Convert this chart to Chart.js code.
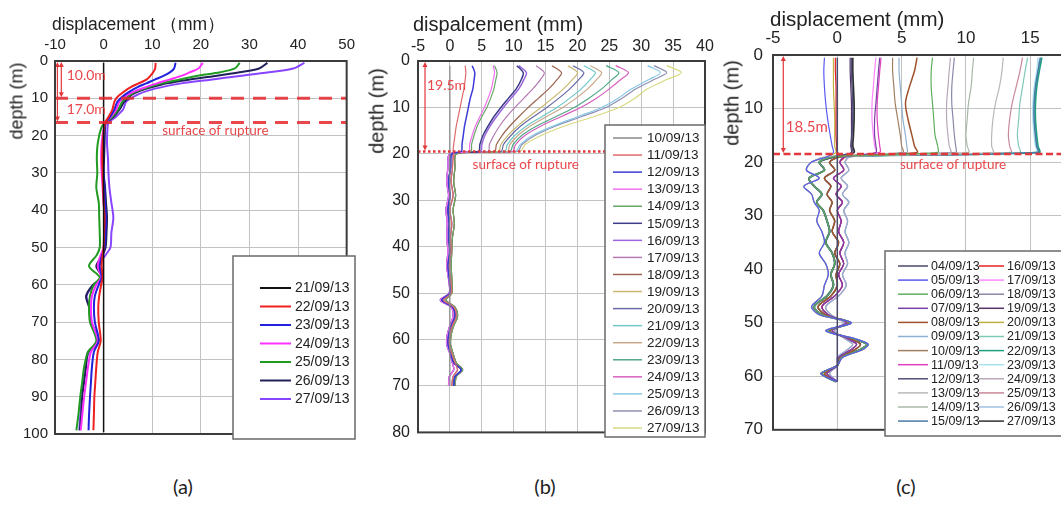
<!DOCTYPE html>
<html>
<head>
<meta charset="utf-8">
<script src="https://cdn.jsdelivr.net/npm/chart.js@4.4.1/dist/chart.umd.min.js"></script>
<style>
body{margin:0;background:#fff;width:1061px;height:529px;overflow:hidden;position:relative;font-family:"Liberation Sans",Arial,sans-serif;color:#222}
canvas{position:absolute;top:0}
.ttl{position:absolute;white-space:nowrap;transform:translateY(-50%)}
.ylab{position:absolute;white-space:nowrap;transform:translate(-50%,-50%) rotate(-90deg)}
.cap{position:absolute;top:486px;transform:translate(-50%,-50%);font:20px Lato,"Open Sans",sans-serif;color:#222}
</style>
</head>
<body>
<canvas id="chA" width="362" height="450" style="left:0"></canvas>
<canvas id="chB" width="360" height="450" style="left:360px"></canvas>
<canvas id="chC" width="410" height="450" style="left:700px"></canvas>

<div class="ttl" style="left:52px;top:24px;font-size:17.5px">displacement （mm）</div>
<div class="ttl" style="left:413px;top:24px;font-size:20px">dispalcement (mm)</div>
<div class="ttl" style="left:770px;top:19px;font-size:20.5px">displacement (mm)</div>
<div class="ylab" style="left:17px;top:101px;font-size:18px">depth (m)</div>
<div class="ylab" style="left:377px;top:111px;font-size:20px">depth (m)</div>
<div class="ylab" style="left:732px;top:103px;font-size:20px">depth (m)</div>
<div class="cap" style="left:183px">(a)</div>
<div class="cap" style="left:545px">(b)</div>
<div class="cap" style="left:906px">(c)</div>

<script>
// ---------- (a) inclinometer, 21/09 - 27/09 ----------
const xTicksA = [-10, 0, 10, 20, 30, 40, 50];
const yTicksA = [0, 10, 20, 30, 40, 50, 60, 70, 80, 90, 100];
const dA = [0.5, 2, 3, 4, 5, 6, 7, 8, 9, 10, 11, 13, 15, 16.5, 18, 22, 26, 30, 34, 38, 42, 46, 50, 52, 55, 58, 60, 63, 66, 70, 75, 78, 82, 86, 90, 95, 99];
const a2109 = [0, 0];  // reference reading, at depths 0.5 and 99.5
const a2209 = [10.7, 10.6, 10.2, 9.6, 8.8, 7.2, 5.6, 4.4, 3.4, 2.6, 2.2, 1.8, 1.0, 0.3, 0.1, -0.2, -0.3, -0.2, -0.1, 0.0, 0.2, 0.1, 0.0, -0.2, -0.4, -0.2, -0.5, -0.9, -1.1, -1.0, -0.6, -1.2, -1.5, -1.7, -1.9, -2.0, -2.1];
const a2309 = [14.8, 14.5, 13.7, 12.3, 10.5, 8.8, 7.0, 5.6, 4.4, 3.5, 2.8, 2.2, 1.3, 0.4, 0.2, 0.0, -0.1, 0.0, 0.2, 0.3, 0.5, 0.4, 0.2, -0.3, -0.8, -0.4, -1.0, -1.8, -2.0, -1.8, -1.0, -2.0, -2.4, -2.6, -2.8, -3.0, -3.1];
const a2409 = [20.4, 19.5, 17.8, 16.0, 13.5, 11.0, 8.7, 6.6, 5.0, 4.0, 3.2, 2.6, 1.5, 0.4, 0.0, -0.4, -0.5, -0.4, -0.2, 0.0, 0.3, 0.2, 0.0, -0.6, -1.2, -0.5, -1.5, -2.4, -2.6, -2.4, -1.2, -2.6, -3.2, -3.6, -4.0, -4.4, -4.7];
const a2509 = [28.0, 27.0, 24.0, 19.0, 15.5, 12.0, 9.3, 7.0, 5.5, 4.5, 3.8, 3.0, 1.8, 0.3, -0.5, -1.2, -1.4, -1.3, -1.5, -1.0, -0.9, -0.8, -0.8, -1.4, -3.0, -0.8, -2.0, -2.8, -3.0, -2.8, -1.5, -3.2, -4.0, -4.4, -4.8, -5.2, -5.6];
const a2609 = [33.7, 32.0, 28.0, 23.0, 17.5, 13.0, 10.0, 7.5, 5.8, 5.0, 4.2, 3.3, 2.0, 0.5, 0.3, 0.2, 0.1, 0.0, 0.3, 0.5, 0.7, 0.6, 0.4, -0.2, -1.5, -0.3, -2.2, -3.6, -3.0, -2.6, -1.0, -3.2, -3.6, -4.0, -4.4, -4.6, -4.9];
const a2709 = [41.3, 39.0, 34.0, 28.0, 22.0, 16.0, 12.0, 9.0, 7.0, 5.6, 4.6, 4.0, 2.5, 1.0, 0.8, 0.7, 0.9, 1.0, 1.2, 1.6, 2.0, 1.6, 1.4, 0.4, -1.0, -0.2, -2.0, -3.5, -2.8, -2.6, -1.2, -3.0, -3.8, -4.2, -4.6, -4.8, -5.0];

// ---------- (b) inclinometer, 10/09 - 27/09 ----------
const xTicksB = [-5, 0, 5, 10, 15, 20, 25, 30, 35, 40];
const yTicksB = [0, 10, 20, 30, 40, 50, 60, 70, 80];
const dBU = [1, 2.5, 4, 6, 8, 10, 12, 14, 16, 18, 19.5];
const dBL = [20, 23, 26, 29, 32, 35, 38, 41, 44, 47, 50, 51.5, 53, 55, 57, 59, 61, 63, 65, 66.5, 68, 70];
const b1009 = [0, 0];  // reference reading, depths 1 and 70
const b1109 = [2.4, 2.5, 2.4, 2.2, 1.9, 1.6, 1.3, 1.0, 0.8, 0.6, 0.5];
const b1209 = [3.5, 3.9, 3.8, 3.6, 3.2, 2.9, 2.6, 2.3, 2.1, 1.9, 1.8];
const b1309 = [6.8, 7.0, 6.8, 6.5, 6.0, 5.4, 4.7, 4.0, 3.5, 3.1, 3.0];
const b1409 = [7.0, 7.4, 7.2, 6.9, 6.4, 5.8, 5.0, 4.3, 3.8, 3.4, 3.3];
const b1509 = [10.5, 11.5, 11.2, 10.4, 9.2, 8.0, 6.9, 6.0, 5.2, 4.7, 4.5];
const b1609 = [10.8, 12.0, 11.6, 10.8, 9.6, 8.4, 7.3, 6.3, 5.5, 5.0, 4.8];
const b1709 = [13.5, 14.8, 14.2, 13.0, 11.6, 10.2, 8.9, 7.8, 6.9, 6.2, 6.0];
const b1809 = [16.0, 17.5, 16.8, 15.5, 13.9, 12.3, 10.8, 9.4, 8.2, 7.3, 7.0];
const b1909 = [18.5, 20.0, 19.2, 17.8, 16.1, 14.3, 12.4, 10.6, 9.1, 8.0, 7.6];
const b2009 = [19.3, 21.0, 20.2, 18.8, 17.1, 15.2, 13.1, 11.1, 9.6, 8.4, 8.0];
const b2109 = [21.0, 22.8, 22.0, 20.6, 18.8, 16.8, 14.4, 12.0, 10.2, 9.0, 8.6];
const b2209 = [22.0, 23.8, 23.0, 21.6, 19.8, 17.7, 15.1, 12.6, 10.7, 9.4, 9.0];
const b2309 = [24.5, 26.5, 25.4, 23.8, 21.8, 19.5, 16.6, 13.6, 11.3, 9.9, 9.4];
const b2409 = [26.0, 28.0, 26.8, 25.0, 23.0, 20.5, 17.4, 14.3, 11.8, 10.3, 9.8];
const b2509 = [31.0, 33.0, 31.2, 28.5, 26.4, 23.8, 20.0, 16.2, 13.0, 11.0, 10.3];
const b2609 = [32.0, 34.0, 32.0, 29.2, 27.0, 24.5, 20.6, 16.6, 13.4, 11.3, 10.6];
const b2709 = [34.0, 36.3, 34.0, 31.0, 29.0, 26.5, 22.5, 18.0, 14.4, 11.8, 11.0];
// below the rupture surface the readings overlap; four traced variants
const bL1 = [0.3, 0.1, -0.2, 0.0, -0.3, -0.1, -0.2, 0.0, -0.3, -0.1, 0.0, -1.3, 0.4, 0.8, 0.2, -0.2, -0.3, 0.1, 0.6, 1.8, 0.8, 0.6];
const bL2 = [0.6, 0.4, 0.2, 0.5, 0.0, 0.3, 0.1, 0.2, -0.1, 0.1, 0.2, -1.0, 0.6, 1.0, 0.4, 0.0, -0.1, 0.3, 0.8, 1.2, 0.5, 0.3];
const bL3 = [0.0, -0.3, -0.5, -0.2, -0.6, -0.4, -0.5, -0.3, -0.5, -0.2, -0.1, -1.5, 0.2, 0.5, 0.0, -0.4, -0.5, 0.0, 0.4, 0.6, -0.1, -0.2];
const bL4 = [1.0, 0.8, 0.6, 0.9, 0.5, 0.7, 0.4, 0.3, 0.2, 0.3, 0.3, -0.6, 0.8, 1.2, 0.6, 0.2, 0.1, 0.5, 1.0, 2.0, 1.0, 0.8];

// ---------- (c) inclinometer, 04/09 - 27/09 ----------
const xTicksC = [-5, 0, 5, 10, 15, 20];
const yTicksC = [0, 10, 20, 30, 40, 50, 60, 70];
const dCU = [0.5, 3, 6, 9, 12, 15, 17, 18.2];
const dCL = [19, 20, 21.5, 23, 24.5, 26, 27.5, 29, 31, 33, 35, 37, 39, 41, 43, 45, 47, 48.5, 50, 51.5, 53, 54, 55, 56.5, 58, 59.5, 61];
const c0409 = [0, 0];  // reference reading, depths 0.5 and 61
const c0509 = [-1.0, -1.05, -1.0, -0.9, -0.75, -0.55, -0.4, -0.3];
const c0609 = [7.4, 7.3, 7.3, 7.4, 7.5, 7.6, 7.8, 7.8];
const c0709 = [3.3, 3.2, 3.1, 3.0, 2.9, 2.9, 3.0, 3.0];
const c0809 = [6.2, 6.0, 5.6, 5.3, 5.5, 5.8, 6.0, 6.2];
const c0909 = [4.8, 4.8, 4.9, 5.0, 5.1, 5.3, 5.4, 5.4];
const c1009 = [4.3, 4.3, 4.4, 4.5, 4.7, 4.9, 5.0, 5.1];
const c1109 = [3.4, 3.3, 3.2, 3.1, 3.1, 3.2, 3.3, 3.3];
const c1209 = [1.1, 1.1, 1.15, 1.2, 1.2, 1.15, 1.1, 1.2];
const c1309 = [12.9, 12.8, 12.6, 12.3, 12.1, 12.0, 12.0, 12.1];
const c1409 = [10.6, 10.5, 10.4, 10.2, 10.1, 10.0, 10.1, 10.2];
const c1509 = [15.8, 15.6, 15.4, 15.3, 15.3, 15.4, 15.5, 15.6];
const c1609 = [-0.15, -0.15, -0.1, -0.1, -0.1, -0.1, -0.05, 0.0];
const c1709 = [3.0, 2.9, 2.8, 2.7, 2.7, 2.8, 2.9, 3.0];
const c1809 = [9.1, 9.0, 8.9, 8.9, 9.0, 9.1, 9.2, 9.2];
const c1909 = [1.0, 1.0, 1.05, 1.1, 1.1, 1.1, 1.05, 1.1];
const c2009 = [-0.3, -0.3, -0.3, -0.25, -0.2, -0.2, -0.2, -0.1];
const c2109 = [14.8, 14.6, 14.4, 14.2, 14.1, 14.0, 14.1, 14.2];
const c2209 = [15.9, 15.7, 15.5, 15.4, 15.4, 15.5, 15.6, 15.7];
const c2309 = [15.6, 15.5, 15.3, 15.2, 15.2, 15.3, 15.4, 15.5];
const c2409 = [8.8, 8.7, 8.6, 8.5, 8.5, 8.6, 8.7, 8.8];
const c2509 = [14.4, 14.2, 13.9, 13.6, 13.4, 13.3, 13.4, 13.5];
const c2609 = [15.7, 15.6, 15.4, 15.3, 15.3, 15.4, 15.5, 15.6];
const c2709 = [1.2, 1.2, 1.25, 1.3, 1.3, 1.25, 1.2, 1.3];
const cL1 = [-0.2, -1.4, -1.0, -2.2, -1.8, -1.2, -1.6, -1.1, -0.8, -0.6, -0.9, -0.4, -0.2, -0.5, -0.3, -0.8, -1.8, -1.2, 1.0, -0.7, 1.2, 2.3, 1.8, 0.3, 0.0, -1.2, -0.1];
const cL2 = [0.3, -0.6, -0.2, -1.0, -0.5, -0.8, -0.4, -0.6, -0.2, -0.4, 0.1, -0.2, 0.2, -0.1, 0.0, -0.5, -1.5, -0.9, 0.9, -0.6, 1.0, 1.8, 1.4, 0.2, 0.0, -1.0, 0.0];
const cL3 = [0.6, 0.2, 0.5, -0.3, 0.3, -0.1, 0.4, 0.0, 0.3, 0.1, 0.5, 0.2, 0.5, 0.1, 0.4, -0.2, -1.2, -0.7, 0.7, -0.4, 0.8, 1.5, 1.1, 0.1, 0.0, -0.8, 0.0];
const cL4 = [1.0, 0.6, 0.9, 0.3, 0.8, 0.4, 0.9, 0.5, 0.8, 0.6, 0.9, 0.6, 0.8, 0.4, 0.7, 0.1, -0.9, -0.5, 0.5, -0.2, 0.6, 1.2, 0.8, 0.0, 0.0, -0.6, 0.0];
const cL5 = [-0.8, -2.0, -2.4, -1.4, -2.6, -2.0, -1.8, -1.4, -1.6, -1.2, -1.0, -1.4, -0.9, -0.7, -1.0, -1.2, -2.0, -1.4, 1.1, -0.9, 1.4, 2.4, 2.0, 0.4, 0.0, -1.3, 0.0];

const RED = '#e2373b';

// points (x = displacement, y = depth)
const pts = (depths, vals) => vals.map((v, i) => ({ x: v, y: depths[i] }));

const setsA = [
  { label: '21/09/13', color: '#111111', w: 1.5, data: pts([0.5, 99.5], a2109) },
  { label: '22/09/13', color: '#ee2020', w: 2, data: pts(dA, a2209) },
  { label: '23/09/13', color: '#2020dd', w: 2, data: pts(dA, a2309) },
  { label: '24/09/13', color: '#ff30ff', w: 2, data: pts(dA, a2409) },
  { label: '25/09/13', color: '#209a20', w: 2, data: pts(dA, a2509) },
  { label: '26/09/13', color: '#20205a', w: 2, data: pts(dA, a2609) },
  { label: '27/09/13', color: '#8844ff', w: 2, data: pts(dA, a2709) }
];

const dB = dBU.concat(dBL);
const setsB = [
  { label: '10/09/13', color: '#8a8a8a', w: 1.2, data: pts([1, 70], b1009) },
  { label: '11/09/13', color: '#e06a6a', w: 1.2, data: pts(dB, b1109.concat(bL2)) },
  { label: '12/09/13', color: '#3a3ad8', w: 1.5, data: pts(dB, b1209.concat(bL1)) },
  { label: '13/09/13', color: '#f070f0', w: 1.2, data: pts(dB, b1309.concat(bL3)) },
  { label: '14/09/13', color: '#6aa86a', w: 1.2, data: pts(dB, b1409.concat(bL4)) },
  { label: '15/09/13', color: '#3c3c88', w: 1.5, data: pts(dB, b1509.concat(bL1)) },
  { label: '16/09/13', color: '#9966dd', w: 1.5, data: pts(dB, b1609.concat(bL3)) },
  { label: '17/09/13', color: '#b47ab4', w: 1.2, data: pts(dB, b1709.concat(bL2)) },
  { label: '18/09/13', color: '#9c6450', w: 1.2, data: pts(dB, b1809.concat(bL4)) },
  { label: '19/09/13', color: '#c8b870', w: 1.2, data: pts(dB, b1909.concat(bL1)) },
  { label: '20/09/13', color: '#6a6aa8', w: 1.2, data: pts(dB, b2009.concat(bL3)) },
  { label: '21/09/13', color: '#70c8c8', w: 1.2, data: pts(dB, b2109.concat(bL2)) },
  { label: '22/09/13', color: '#c8a888', w: 1.2, data: pts(dB, b2209.concat(bL4)) },
  { label: '23/09/13', color: '#50a888', w: 1.2, data: pts(dB, b2309.concat(bL1)) },
  { label: '24/09/13', color: '#d860c0', w: 1.2, data: pts(dB, b2409.concat(bL3)) },
  { label: '25/09/13', color: '#88c8e8', w: 1.2, data: pts(dB, b2509.concat(bL2)) },
  { label: '26/09/13', color: '#9090b0', w: 1.2, data: pts(dB, b2609.concat(bL4)) },
  { label: '27/09/13', color: '#d8d880', w: 1.2, data: pts(dB, b2709.concat(bL1)) }
];

const dC = dCU.concat(dCL);
const setsC = [
  { label: '04/09/13', color: '#4a4a6a', w: 1.5, data: pts([0.5, 61], c0409) },
  { label: '05/09/13', color: '#5a5af0', w: 1.2, data: pts(dC, c0509.concat(cL5)) },
  { label: '06/09/13', color: '#5fae5f', w: 1.2, data: pts(dC, c0609.concat(cL1)) },
  { label: '07/09/13', color: '#7a3fa8', w: 1.2, data: pts(dC, c0709.concat(cL3)) },
  { label: '08/09/13', color: '#a0522d', w: 1.5, data: pts(dC, c0809.concat(cL2)) },
  { label: '09/09/13', color: '#8fb0d0', w: 1.2, data: pts(dC, c0909.concat(cL4)) },
  { label: '10/09/13', color: '#a08060', w: 1.2, data: pts(dC, c1009.concat(cL2)) },
  { label: '11/09/13', color: '#e040c0', w: 1.2, data: pts(dC, c1109.concat(cL3)) },
  { label: '12/09/13', color: '#50507a', w: 1.5, data: pts(dC, c1209.concat(cL1)) },
  { label: '13/09/13', color: '#b8b8b8', w: 1.2, data: pts(dC, c1309.concat(cL4)) },
  { label: '14/09/13', color: '#a8b8a8', w: 1.2, data: pts(dC, c1409.concat(cL5)) },
  { label: '15/09/13', color: '#4a7aa8', w: 1.5, data: pts(dC, c1509.concat(cL2)) },
  { label: '16/09/13', color: '#e82020', w: 1.2, data: pts(dC, c1609.concat(cL3)) },
  { label: '17/09/13', color: '#ff88ff', w: 1.2, data: pts(dC, c1709.concat(cL4)) },
  { label: '18/09/13', color: '#8888a8', w: 1.2, data: pts(dC, c1809.concat(cL1)) },
  { label: '19/09/13', color: '#553366', w: 1.2, data: pts(dC, c1909.concat(cL3)) },
  { label: '20/09/13', color: '#c0b040', w: 1.2, data: pts(dC, c2009.concat(cL5)) },
  { label: '21/09/13', color: '#80c8b8', w: 1.2, data: pts(dC, c2109.concat(cL2)) },
  { label: '22/09/13', color: '#20a080', w: 1.8, data: pts(dC, c2209.concat(cL1)) },
  { label: '23/09/13', color: '#a8e0f0', w: 1.2, data: pts(dC, c2309.concat(cL5)) },
  { label: '24/09/13', color: '#b8a8b8', w: 1.2, data: pts(dC, c2409.concat(cL4)) },
  { label: '25/09/13', color: '#c88898', w: 1.2, data: pts(dC, c2509.concat(cL3)) },
  { label: '26/09/13', color: '#a0c0e0', w: 1.2, data: pts(dC, c2609.concat(cL2)) },
  { label: '27/09/13', color: '#303030', w: 1.8, data: pts(dC, c2709.concat(cL1)) }
];

// frame, rupture lines, arrows, notes and the boxed legend
const deco = {
  id: 'deco',
  afterDatasetsDraw(chart, args, o) {
    const ctx = chart.ctx, a = chart.chartArea, xs = chart.scales.x, ys = chart.scales.y;
    ctx.save();
    ctx.beginPath(); ctx.rect(a.left, a.top, a.right - a.left, a.bottom - a.top); ctx.clip();
    o.cuts.forEach(c => {
      const y = ys.getPixelForValue(c.d);
      ctx.strokeStyle = c.color || RED; ctx.lineWidth = c.w; ctx.setLineDash(c.dash);
      ctx.beginPath(); ctx.moveTo(a.left, y); ctx.lineTo(a.right, y); ctx.stroke();
    });
    ctx.setLineDash([]);
    o.arrows.forEach(r => {
      const x = xs.getPixelForValue(r.x), y0 = ys.getPixelForValue(0) + 1, y1 = ys.getPixelForValue(r.d) - 1;
      ctx.strokeStyle = RED; ctx.fillStyle = RED; ctx.lineWidth = 1.2;
      ctx.beginPath(); ctx.moveTo(x, y0 + 3); ctx.lineTo(x, y1 - 3); ctx.stroke();
      ctx.beginPath(); ctx.moveTo(x, y0); ctx.lineTo(x - 2.5, y0 + 5); ctx.lineTo(x + 2.5, y0 + 5); ctx.fill();
      ctx.beginPath(); ctx.moveTo(x, y1); ctx.lineTo(x - 2.5, y1 - 5); ctx.lineTo(x + 2.5, y1 - 5); ctx.fill();
    });
    o.texts.forEach(t => {
      ctx.fillStyle = '#e8474b'; ctx.font = t.size + 'px Lato, "Open Sans", sans-serif';
      ctx.textAlign = t.align || 'left'; ctx.textBaseline = 'middle';
      ctx.fillText(t.t, xs.getPixelForValue(t.x), ys.getPixelForValue(t.d));
    });
    ctx.restore();

    ctx.save();
    ctx.strokeStyle = '#3c3c3c'; ctx.lineWidth = 2;
    ctx.strokeRect(a.left, a.top, a.right - a.left, a.bottom - a.top);
    const L = o.legend;
    ctx.fillStyle = '#fff'; ctx.fillRect(L.x, L.y, L.w, L.h);
    ctx.strokeStyle = '#6a6a6a'; ctx.lineWidth = 1.5; ctx.strokeRect(L.x, L.y, L.w, L.h);
    ctx.font = L.font; ctx.textAlign = 'left'; ctx.textBaseline = 'middle';
    chart.data.datasets.forEach((ds, i) => {
      const col = L.cols[Math.floor(i / L.rows)], y = L.y0 + (i % L.rows) * L.dy;
      ctx.strokeStyle = ds.borderColor; ctx.lineWidth = L.lw;
      ctx.beginPath(); ctx.moveTo(col.s0, y); ctx.lineTo(col.s1, y); ctx.stroke();
      ctx.fillStyle = '#222'; ctx.fillText(ds.label, col.tx, y + 0.5);
    });
    ctx.restore();
  }
};

function makeChart(id, c) {
  return new Chart(document.getElementById(id), {
    type: 'scatter',
    data: {
      datasets: c.sets.map(s => ({
        label: s.label, data: s.data, showLine: true, borderColor: s.color,
        backgroundColor: s.color, borderWidth: s.w, pointRadius: 0, tension: 0.3
      }))
    },
    options: {
      responsive: false, animation: false, events: [],
      layout: { padding: { left: 0, top: 0, right: c.padR, bottom: c.padB } },
      plugins: { legend: { display: false }, tooltip: { enabled: false }, deco: c.deco },
      scales: {
        x: {
          type: 'linear', position: 'top', min: c.xt[0], max: c.xt[c.xt.length - 1],
          afterBuildTicks: ax => { ax.ticks = c.xt.map(v => ({ value: v })); },
          afterFit: ax => { ax.height = c.top; },
          grid: { color: '#c2c2c2', drawTicks: false },
          border: { display: false },
          ticks: { padding: c.xPad, color: '#222', font: { family: '"Liberation Sans", Arial', size: c.fs } }
        },
        y: {
          type: 'linear', reverse: true, min: c.yt[0], max: c.yt[c.yt.length - 1],
          afterBuildTicks: ax => { ax.ticks = c.yt.map(v => ({ value: v })); },
          afterFit: ax => { ax.width = c.left; },
          grid: { color: '#c2c2c2', drawTicks: false },
          border: { display: false },
          ticks: { padding: c.yPad, color: '#222', font: { family: '"Liberation Sans", Arial', size: c.fs } }
        }
      }
    },
    plugins: [deco]
  });
}

makeChart('chA', {
  sets: setsA, xt: xTicksA, yt: yTicksA, left: 55, top: 61, padR: 10, padB: 12, xPad: 7, yPad: 7, fs: 15,
  deco: {
    cuts: [{ d: 10, w: 3, dash: [13, 9], color: 'rgba(228,40,44,0.85)' }, { d: 16.5, w: 3, dash: [13, 9], color: 'rgba(228,40,44,0.85)' }],
    arrows: [{ x: -8.7, d: 10 }, { x: -9.5, d: 16.5 }],
    texts: [{ t: '10.0m', x: -7.6, d: 4, size: 14 }, { t: '17.0m', x: -7.6, d: 13, size: 14 },
            { t: 'surface of rupture', x: 23, d: 18.7, size: 13.5, align: 'center' }],
    legend: { x: 233, y: 256, w: 122, h: 183, rows: 7, y0: 288, dy: 18.5, lw: 2,
              cols: [{ s0: 260, s1: 291, tx: 295 }], font: '14px "Liberation Sans", Arial' }
  }
});

makeChart('chB', {
  sets: setsB, xt: xTicksB, yt: yTicksB, left: 58, top: 61, padR: 15, padB: 13, xPad: 5, yPad: 8, fs: 16,
  deco: {
    cuts: [{ d: 19.5, w: 2.5, dash: [2.5, 2.5] }],
    arrows: [{ x: -3.9, d: 19.5 }],
    texts: [{ t: '19.5m', x: -3.6, d: 5.3, size: 14 },
            { t: 'surface of rupture', x: 11.9, d: 22.3, size: 13.5, align: 'center' }],
    legend: { x: 245, y: 125, w: 100, h: 312, rows: 18, y0: 138, dy: 17.06, lw: 1.5,
              cols: [{ s0: 253, s1: 282, tx: 287 }], font: '13.5px "Liberation Sans", Arial' }
  }
});

makeChart('chC', {
  sets: setsC, xt: xTicksC, yt: yTicksC, left: 73, top: 55, padR: 11, padB: 14, xPad: 6, yPad: 10, fs: 17,
  deco: {
    cuts: [{ d: 18.5, w: 2.5, dash: [7, 3.5] }],
    arrows: [{ x: -4.2, d: 18.5 }],
    texts: [{ t: '18.5m', x: -4.0, d: 13.4, size: 15 },
            { t: 'surface of rupture', x: 9.0, d: 20.4, size: 13.5, align: 'center' }],
    legend: { x: 185, y: 251, w: 200, h: 185, rows: 12, y0: 266, dy: 14.1, lw: 1.5,
              cols: [{ s0: 198, s1: 228, tx: 231 }, { s0: 279, s1: 304, tx: 307 }], font: '12.5px "Liberation Sans", Arial' }
  }
});
</script>
</body>
</html>
